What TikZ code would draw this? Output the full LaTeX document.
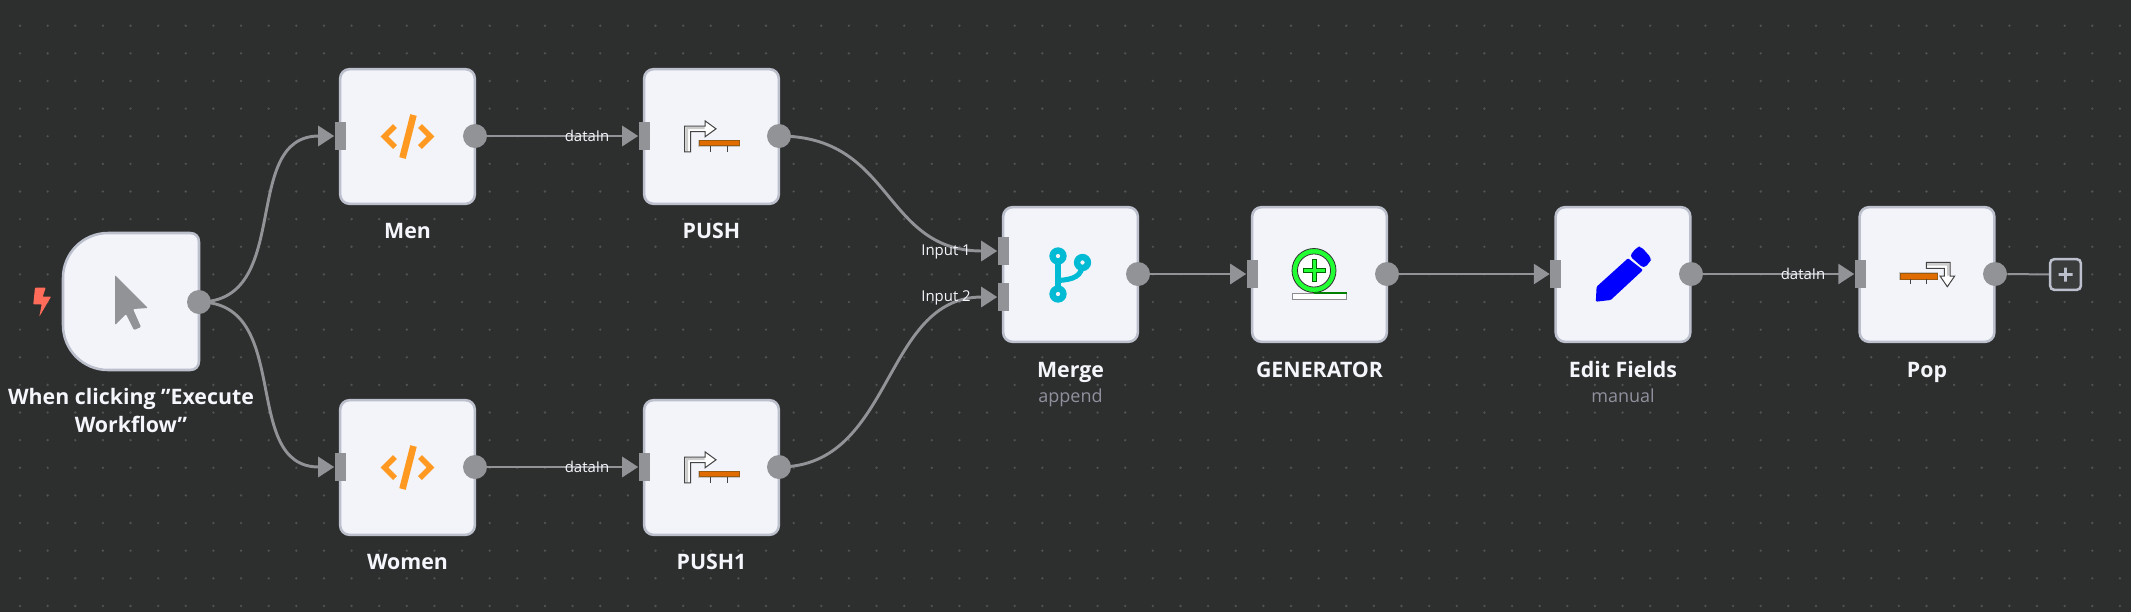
\documentclass[tikz,border=0pt]{standalone}
\usepackage{fontspec}
\setmainfont{Open Sans}
\usetikzlibrary{arrows.meta}
\definecolor{canvas}{HTML}{2D2E2E}
\definecolor{griddot}{HTML}{505152}
\definecolor{boxfill}{HTML}{F2F4F9}
\definecolor{boxedge}{HTML}{BCC0CD}
\definecolor{portgrey}{HTML}{929397}
\definecolor{subgrey}{HTML}{8F929E}
\definecolor{codeorange}{HTML}{FF9922}
\definecolor{boltred}{HTML}{FF6D5A}
\definecolor{mergecyan}{HTML}{00BBD3}
\definecolor{barorange}{HTML}{E06C00}
\definecolor{bardark}{HTML}{9A5A10}
\definecolor{ringgreen}{HTML}{22FF33}
\definecolor{outline}{HTML}{444444}
\definecolor{labwhite}{HTML}{F4F6FB}
\tikzset{
  x=0.75pt,y=-0.75pt,
  stepbox/.style={draw=boxedge,fill=boxfill,line width=1.9pt,rounded corners=7pt,minimum width=101pt,minimum height=101pt,inner sep=0pt},
  inport/.style={fill=portgrey,minimum width=8.25pt,minimum height=21pt,inner sep=0pt},
  outport/.style={circle,fill=portgrey,minimum size=18pt,inner sep=0pt},
  conn/.style={draw=portgrey,line width=2.2pt,-{Triangle[length=12pt,width=15pt]}},
  steplabel/.style={text=labwhite,font=\bfseries\fontsize{16pt}{20pt}\selectfont,anchor=base,inner sep=0pt},
  sublabel/.style={text=subgrey,font=\fontsize{13.5pt}{17pt}\selectfont,anchor=base,inner sep=0pt},
  linklabel/.style={text=labwhite,font=\fontsize{11.2pt}{13pt}\selectfont,inner sep=0pt},
  codeicon/.pic={
    \draw[codeorange,line width=4.2pt,miter limit=4] (-12.5,-10.5)--(-23,0)--(-12.5,10.5);
    \draw[codeorange,line width=4.2pt,miter limit=4] (12.5,-10.5)--(23,0)--(12.5,10.5);
    \draw[codeorange,line width=5pt] (6,-21.5)--(-5,21.5);
  },
  pushicon/.pic={
    \fill[white] (-26.8,15.3)--(-26.8,-10.3)--(-6.5,-10.3)--(-6.5,-15.7)--(4.5,-7.7)--(-6.5,0.3)--(-6.5,-5)--(-20.8,-5)--(-20.8,15.3)--cycle;
    \fill[black!20] (-26,15)--(-26,-9.5)--(-7,-9.5)--(-7,-7.5)--(-23.5,-7.5)--(-23.5,15)--cycle;
    \draw[outline,line width=0.75pt,line join=miter] (-26.8,15.3)--(-26.8,-10.3)--(-6.5,-10.3)--(-6.5,-15.7)--(4.5,-7.7)--(-6.5,0.3)--(-6.5,-5)--(-20.8,-5)--(-20.8,15.3)--cycle;
    \fill[black!22] (-13.5,3)rectangle(28.5,10.5);
    \draw[bardark,fill=barorange,line width=0.6pt] (-12.5,4)rectangle(27.5,9.3);
    \draw[outline,line width=0.5pt] (-1.2,9.3)--(-1.2,15.3) (15.8,9.3)--(15.8,15.3);
  },
  popicon/.pic={
    \fill[white] (-0.7,-12.2)--(23,-12.2)--(23,1.5)--(27.7,1.5)--(20.3,12.2)--(13,1.5)--(17.3,1.5)--(17.3,-6.2)--(-0.7,-6.2)--cycle;
    \fill[black!20] (0,-11.5)--(22.3,-11.5)--(22.3,1)--(20,1)--(20,-9)--(0,-9)--cycle;
    \draw[outline,line width=0.75pt] (-0.7,-12.2)--(23,-12.2)--(23,1.5)--(27.7,1.5)--(20.3,12.2)--(13,1.5)--(17.3,1.5)--(17.3,-6.2)--(-0.7,-6.2)--cycle;
    \fill[black!22] (-27.7,-2.2)rectangle(11,5.5);
    \draw[bardark,fill=barorange,line width=0.6pt] (-26.7,-1.2)rectangle(10,4.5);
    \draw[outline,line width=0.5pt] (-16.7,4.5)--(-16.7,9.5) (-0.7,4.5)--(-0.7,9.5);
  },
  mergeicon/.pic={
    \draw[mergecyan,line width=3.8pt] (-12.5,-18)--(-12.5,20);
    \draw[mergecyan,line width=3.8pt] (12,-12) .. controls (12,2) and (3,5) .. (-12.5,6);
    \foreach \cx/\cy in {-12.5/-18.5,12/-12,-12.5/19.5}{
      \fill[mergecyan] (\cx,\cy) circle[radius=6.5pt];
      \fill[boxfill] (\cx,\cy) circle[radius=1.6pt];
    }
  },
  genicon/.pic={
    \draw[outline!70!black,line width=0.6pt,fill=ringgreen] (-5.5,-4) circle[radius=16.5pt];
    \draw[outline!70!black,line width=0.6pt,fill=white] (-5.5,-4) circle[radius=12.4pt];
    \draw[black!60!green,line width=0.5pt,fill=ringgreen] (-7.5,-15)--(-3.5,-15)--(-3.5,-6)--(5.5,-6)--(5.5,-2)--(-3.5,-2)--(-3.5,7)--(-7.5,7)--(-7.5,-2)--(-16.5,-2)--(-16.5,-6)--(-7.5,-6)--cycle;
    \draw[black!45,line width=0.7pt,fill=white] (-27,19)rectangle(27,24.8);
    \draw[green!50!black,line width=1.4pt] (-5.5,18.7)--(27,18.7);
  },
  penicon/.pic={
    \fill[blue,rounded corners=0.8pt] (-27.2,27.2)--(-26.4,12.2)--(5,-16.2)--(20,-4.5)--(-12.3,25.5)--cycle;
    \fill[blue,rounded corners=2.5pt] (6.6,-18.5)--(14,-27.5)--(18,-28)--(28.5,-16.2)--(27,-12.5)--(20.7,-6.2)--cycle;
  },
}
\begin{document}
\begin{tikzpicture}
\useasboundingbox (0,0) rectangle (2131,612);
\fill[canvas] (0,0) rectangle (2131,612);
\foreach \i in {0,...,76}{
  \foreach \j in {0,...,21}{
    \fill[griddot] ({20+27.63*\i},{25.7+27.63*\j}) circle[radius=1pt];
  }
}
% step boxes
\draw[boxedge,fill=boxfill,line width=1.9pt] (108,233) -- (190,233) .. controls (195.5,233) and (199,236.5) .. (199,242) -- (199,361) .. controls (199,366.5) and (195.5,370) .. (190,370) -- (108,370) .. controls (83.1,370) and (63,349.9) .. (63,325) -- (63,278) .. controls (63,253.1) and (83.1,233) .. (108,233) -- cycle;
\node[minimum size=1pt,inner sep=0pt] (trig) at (131,302) {};
\node[stepbox] (men) at (407.5,136.5) {};
\node[stepbox] (push) at (711.5,136.5) {};
\node[stepbox] (women) at (407.5,467.5) {};
\node[stepbox] (pushb) at (711.5,467.5) {};
\node[stepbox] (merge) at (1070.5,274.5) {};
\node[stepbox] (gen) at (1319.5,274.5) {};
\node[stepbox] (edit) at (1623,274.5) {};
\node[stepbox] (pop) at (1927,274.5) {};
% ports
\node[outport] (trigout) at (199,302) {};
\node[inport] (menin) at (340,136) {};
\node[outport] (menout) at (475,136) {};
\node[inport] (pushin) at (644,136) {};
\node[outport] (pushout) at (779,136) {};
\node[inport] (womenin) at (340,467) {};
\node[outport] (womenout) at (475,467) {};
\node[inport] (pushbin) at (644,467) {};
\node[outport] (pushbout) at (779,467) {};
\node[inport] (mergeina) at (1003,251) {};
\node[inport] (mergeinb) at (1003,297) {};
\node[outport] (mergeout) at (1138,274) {};
\node[inport] (genin) at (1252,274) {};
\node[outport] (genout) at (1387,274) {};
\node[inport] (editin) at (1555.5,274) {};
\node[outport] (editout) at (1691,274) {};
\node[inport] (popin) at (1860,274) {};
\node[outport] (popout) at (1995,274) {};
\node[draw=boxedge,fill=black!20!canvas!90!white,line width=1.9pt,rounded corners=3pt,minimum size=23pt,inner sep=0pt] (plus) at (2065.5,274.5) {};
\fill[boxedge] (2058.5,273.2) rectangle (2072.5,275.8) (2064.2,267.5) rectangle (2066.8,281.5);
% connectors
\draw[conn] (trigout.center) .. controls +(95,0) and +(-95,0) .. (menin.west);
\draw[conn] (trigout.center) .. controls +(95,0) and +(-95,0) .. (womenin.west);
\draw[conn] (menout) -- (pushin);
\draw[conn] (womenout) -- (pushbin);
\draw[conn] (pushout.center) .. controls +(115,0) and +(-115,0) .. (mergeina.west);
\draw[conn] (pushbout.center) .. controls +(115,0) and +(-115,0) .. (mergeinb.west);
\draw[conn] (mergeout) -- (genin);
\draw[conn] (genout) -- (editin);
\draw[conn] (editout) -- (popin);
\draw[draw=portgrey,line width=1.5pt] (popout) -- (plus);
% icons
\fill[portgrey,rounded corners=0.8pt] (115,275)--(115,325)--(126,314)--(134,330)--(141,327)--(133,309)--(148,308)--cycle;
\fill[boltred,rounded corners=0.5pt] (35,287.7)--(45.7,287.7)--(42.7,296.7)--(51,296.7)--(39.3,316.7)--(41.7,304.3)--(33.3,304.3)--cycle;
\pic at (men.center) {codeicon};
\pic at (women.center) {codeicon};
\pic at (push.center) {pushicon};
\pic at (pushb.center) {pushicon};
\pic at (merge.center) {mergeicon};
\pic at (gen.center) {genicon};
\pic at (edit.center) {penicon};
\pic at (pop.center) {popicon};
% labels
\node[linklabel] (la) at (587,136) {dataIn};
\node[linklabel] (lb) at (587,467) {dataIn};
\node[linklabel] (lc) at (1803,274) {dataIn};
\node[linklabel] (ld) at (946,252) {Input 1};
\node[linklabel] (le) at (946,298) {Input 2};
\node[steplabel] (tlab) at (131,404) {When clicking \symbol{34}Execute};
\node[steplabel] (tlabb) at (131,432) {Workflow\symbol{34}};
\node[steplabel] (menlab) at (407.5,238) {Men};
\node[steplabel] (pushlab) at (711.5,238) {PUSH};
\node[steplabel] (womenlab) at (407.5,569) {Women};
\node[steplabel] (pushblab) at (711.5,569) {PUSH1};
\node[steplabel] (mergelab) at (1070.5,377) {Merge};
\node[sublabel] (mergesub) at (1070.5,402) {append};
\node[steplabel] (genlab) at (1319.5,377) {GENERATOR};
\node[steplabel] (editlab) at (1623,377) {Edit Fields};
\node[sublabel] (editsub) at (1623,402) {manual};
\node[steplabel] (poplab) at (1927,377) {Pop};
\end{tikzpicture}
\end{document}
